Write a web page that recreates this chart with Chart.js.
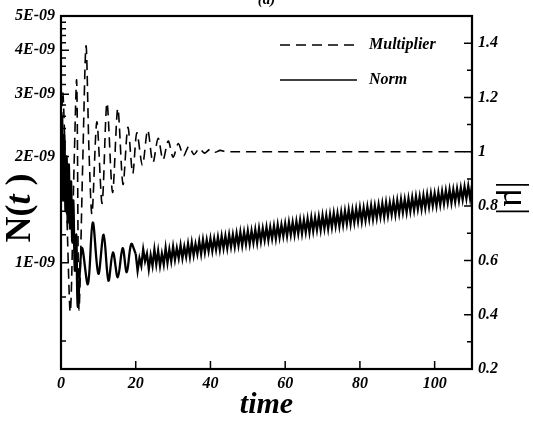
<!DOCTYPE html>
<html>
<head>
<meta charset="utf-8">
<script src="https://cdn.jsdelivr.net/npm/chart.js@4/dist/chart.umd.min.js"></script>
<style>
  body { margin: 0; background: #fff; }
</style>
</head>
<body>
<canvas id="miGrafico" width="533" height="424"></canvas>
<script>
// multiplier |mu| (right axis)
var multT = [0, 0.5, 1.5, 2.5, 3.5, 4.2, 4.8, 5.8, 6.7, 7.5, 8.3, 9.6, 11.0, 12.3, 13.8, 15.2, 16.6, 17.9, 19.2, 20.3, 21.8, 23.2, 24.6, 26.0, 27.3, 28.7, 30.0, 31.4, 32.8, 34.2, 35.6, 37.0, 38.4, 39.8, 41.2, 42.6, 44, 46, 110];
var multV = [1.05, 1.22, 0.8, 0.41, 0.95, 1.26, 0.42, 0.95, 1.39, 1.0, 0.77, 1.11, 0.81, 1.18, 0.85, 1.16, 0.88, 1.09, 0.92, 1.07, 0.95, 1.08, 0.96, 1.05, 0.97, 1.04, 0.98, 1.03, 0.985, 1.02, 0.99, 1.012, 0.995, 1.008, 0.998, 1.005, 1.0, 1.0, 1.0];

// norm N(t) in units of 1E-09 (left axis), early part
var normEarlyT = [0, 0.3, 0.6, 0.9, 1.2, 1.5, 1.8, 2.1, 2.4, 2.7, 3.0, 3.3, 3.7, 4.1, 4.5, 5.6, 7.2, 8.5, 10.0, 11.4, 12.7, 13.9, 15.2, 16.5, 17.6, 18.8, 20.0];
var normEarlyV = [1.9, 2.6, 1.5, 2.3, 1.4, 2.0, 1.3, 1.9, 1.25, 1.7, 1.15, 1.5, 0.95, 1.2, 0.75, 1.1, 0.87, 1.30, 0.93, 1.20, 0.89, 1.07, 0.91, 1.10, 0.94, 1.13, 1.06];

// norm, oscillating band from t = 20 to 110, one value every 0.5
var bandStart = 20;
var bandStep = 0.5;
var normBandV = [
  1.06, 0.95, 1.03, 0.98, 1.09, 1.01, 1.06, 0.96, 1.05, 0.98,
  1.09, 0.99, 1.08, 0.98, 1.06, 0.99, 1.10, 1.00, 1.09, 1.01,
  1.11, 1.02, 1.10, 1.03, 1.12, 1.03, 1.11, 1.04, 1.13, 1.04,
  1.14, 1.05, 1.13, 1.06, 1.15, 1.06, 1.16, 1.07, 1.16, 1.08,
  1.17, 1.08, 1.17, 1.09, 1.18, 1.09, 1.19, 1.10, 1.19, 1.10,
  1.20, 1.11, 1.20, 1.11, 1.21, 1.12, 1.22, 1.12, 1.22, 1.13,
  1.23, 1.13, 1.23, 1.14, 1.24, 1.14, 1.25, 1.15, 1.25, 1.16,
  1.26, 1.16, 1.26, 1.17, 1.27, 1.17, 1.28, 1.18, 1.28, 1.19,
  1.29, 1.19, 1.30, 1.20, 1.30, 1.20, 1.31, 1.21, 1.32, 1.21,
  1.32, 1.22, 1.33, 1.22, 1.34, 1.23, 1.34, 1.24, 1.35, 1.24,
  1.36, 1.25, 1.36, 1.25, 1.37, 1.26, 1.38, 1.27, 1.38, 1.27,
  1.39, 1.28, 1.40, 1.29, 1.41, 1.29, 1.41, 1.30, 1.42, 1.31,
  1.43, 1.31, 1.43, 1.32, 1.44, 1.33, 1.45, 1.33, 1.45, 1.34,
  1.46, 1.35, 1.47, 1.35, 1.48, 1.36, 1.48, 1.37, 1.49, 1.37,
  1.50, 1.38, 1.51, 1.39, 1.51, 1.39, 1.52, 1.40, 1.53, 1.41,
  1.54, 1.42, 1.54, 1.42, 1.55, 1.43, 1.56, 1.44, 1.57, 1.45,
  1.57, 1.45, 1.58, 1.46, 1.59, 1.47, 1.60, 1.48, 1.61, 1.48,
  1.61, 1.49, 1.62, 1.50, 1.63, 1.51, 1.64, 1.52, 1.65, 1.52,
  1.66
];

// axis ticks
var xTicks = [0, 20, 40, 60, 80, 100];
var leftTicks = [1, 2, 3, 4, 5];
var leftMinor = [0.6, 0.8, 1.2, 1.4, 1.6, 1.8, 2.2, 2.4, 2.6, 2.8, 3.2, 3.4, 3.6, 3.8, 4.2, 4.4, 4.6, 4.8];
var rightTicks = [0.2, 0.4, 0.6, 0.8, 1.0, 1.2, 1.4];
var rightMinor = [0.3, 0.5, 0.7, 0.9, 1.1, 1.3];

var legendNames = ['Multiplier', 'Norm'];

document.addEventListener('DOMContentLoaded', function() {

    // build the point lists
    var multData = multT.map(function(t, i) { return { x: t, y: multV[i] }; });
    var normEarly = normEarlyT.map(function(t, i) { return { x: t, y: normEarlyV[i] }; });
    var normBand = normBandV.map(function(v, i) { return { x: bandStart + i * bandStep, y: v }; });

    var fuente = { family: 'Liberation Serif', size: 16, style: 'italic', weight: 'bold' };

    // inward ticks, frame, legend, side titles and the cut "(a)"
    var adornos = {
        id: 'adornos',
        afterDatasetsDraw: function(chart) {
            var c = chart.ctx;
            var a = chart.chartArea;
            var sx = chart.scales.x, sl = chart.scales.yL, sr = chart.scales.yR;
            c.save();
            c.strokeStyle = '#000';
            c.lineWidth = 1.5;
            c.beginPath();
            xTicks.forEach(function(v) {
                var p = sx.getPixelForValue(v);
                c.moveTo(p, a.bottom); c.lineTo(p, a.bottom - 8);
            });
            leftTicks.forEach(function(v) {
                var p = sl.getPixelForValue(v);
                c.moveTo(a.left, p); c.lineTo(a.left + 8, p);
            });
            leftMinor.forEach(function(v) {
                var p = sl.getPixelForValue(v);
                c.moveTo(a.left, p); c.lineTo(a.left + 5, p);
            });
            rightTicks.forEach(function(v) {
                var p = sr.getPixelForValue(v);
                c.moveTo(a.right, p); c.lineTo(a.right - 8, p);
            });
            rightMinor.forEach(function(v) {
                var p = sr.getPixelForValue(v);
                c.moveTo(a.right, p); c.lineTo(a.right - 5, p);
            });
            c.stroke();

            c.lineWidth = 2.2;
            c.strokeRect(a.left, a.top, a.right - a.left, a.bottom - a.top);

            // legend (first two datasets)
            c.font = 'italic bold 16px "Liberation Serif"';
            c.textBaseline = 'middle';
            c.fillStyle = '#000';
            legendNames.forEach(function(nombre, i) {
                var ds = chart.data.datasets[i];
                var y = 45 + i * 35;
                c.lineWidth = 1.6;
                c.setLineDash(ds.borderDash || []);
                c.beginPath();
                c.moveTo(280, y); c.lineTo(357, y);
                c.stroke();
                c.setLineDash([]);
                c.fillText(nombre, 369, y);
            });

            // left title N(t ), upright N and brackets, italic t
            c.save();
            c.translate(21, 208);
            c.rotate(-Math.PI / 2);
            c.textBaseline = 'middle';
            c.textAlign = 'left';
            var partes = [['N(', 'bold 36px "Liberation Serif"'], ['t', 'italic bold 36px "Liberation Serif"'], [' )', 'bold 36px "Liberation Serif"']];
            var total = 0;
            partes.forEach(function(p) { c.font = p[1]; total += c.measureText(p[0]).width; });
            var xx = -total / 2;
            partes.forEach(function(p) { c.font = p[1]; c.fillText(p[0], xx, 0); xx += c.measureText(p[0]).width; });
            c.restore();

            // right title |mu|
            c.save();
            c.translate(513, 198);
            c.rotate(Math.PI / 2);
            c.textAlign = 'center';
            c.textBaseline = 'middle';
            c.font = '36px "Liberation Serif"';
            c.fillText('|μ|', 0, 0);
            c.restore();

            c.font = 'italic bold 15px "Liberation Serif"';
            c.textAlign = 'center';
            c.fillText('(a)', (a.left + a.right) / 2, 0);
            c.restore();
        }
    };

    var configuracion = {
        type: 'line',
        data: {
            datasets: [{
                label: legendNames[0],
                data: multData,
                yAxisID: 'yR',
                borderColor: '#000',
                borderWidth: 1.6,
                borderDash: [10, 6],
                pointRadius: 0,
                tension: 0.3
            }, {
                label: legendNames[1],
                data: normEarly,
                yAxisID: 'yL',
                borderColor: '#000',
                borderWidth: 2.3,
                pointRadius: 0,
                tension: 0.35
            }, {
                label: legendNames[1],
                data: normBand,
                yAxisID: 'yL',
                borderColor: '#000',
                borderWidth: 2.3,
                pointRadius: 0,
                tension: 0
            }]
        },
        options: {
            responsive: false,
            animation: false,
            layout: { padding: { top: 16, left: 0, right: 0, bottom: 0 } },
            plugins: { legend: { display: false }, tooltip: { enabled: false } },
            scales: {
                x: {
                    type: 'linear',
                    min: 0,
                    max: 110,
                    grid: { display: false, drawTicks: false },
                    border: { display: false },
                    afterBuildTicks: function(s) { s.ticks = xTicks.map(function(v) { return { value: v }; }); },
                    afterFit: function(s) { s.height = 55; },
                    ticks: { color: '#000', font: fuente, padding: 5, maxRotation: 0 },
                    title: {
                        display: true, text: 'time', color: '#000',
                        font: { family: 'Liberation Serif', size: 30, style: 'italic', weight: 'bold' },
                        padding: { top: 0, bottom: 1 }
                    }
                },
                yL: {
                    type: 'logarithmic',
                    position: 'left',
                    min: 0.5,
                    max: 5,
                    grid: { display: false, drawTicks: false },
                    border: { display: false },
                    afterBuildTicks: function(s) { s.ticks = leftTicks.map(function(v) { return { value: v }; }); },
                    afterFit: function(s) { s.width = 61; },
                    ticks: {
                        color: '#000', font: fuente, padding: 6,
                        callback: function(v) { return v + 'E-09'; }
                    }
                },
                yR: {
                    type: 'linear',
                    position: 'right',
                    min: 0.2,
                    max: 1.5,
                    grid: { display: false, drawTicks: false },
                    border: { display: false },
                    afterBuildTicks: function(s) { s.ticks = rightTicks.map(function(v) { return { value: v }; }); },
                    afterFit: function(s) { s.width = 61; },
                    ticks: {
                        color: '#000', font: fuente, padding: 6,
                        callback: function(v) { return String(Math.round(v * 10) / 10); }
                    }
                }
            }
        },
        plugins: [adornos]
    };

    var miGrafico = new Chart(document.getElementById('miGrafico').getContext('2d'), configuracion);
});
</script>
</body>
</html>
